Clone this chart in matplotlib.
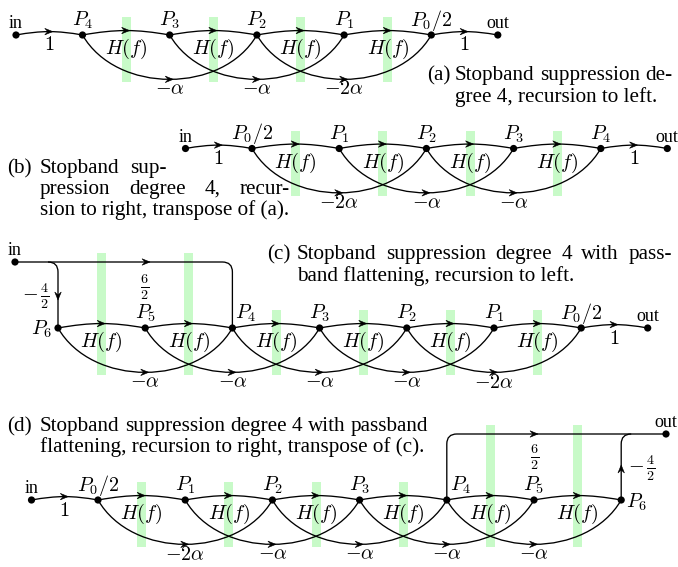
import numpy as np
import matplotlib
matplotlib.use('Agg')
import matplotlib.pyplot as plt
from matplotlib.path import Path
from matplotlib.patches import PathPatch, Polygon, Rectangle, Circle

plt.rcParams['mathtext.fontset'] = 'cm'
plt.rcParams['font.family'] = ['Liberation Serif', 'DejaVu Serif']

# node names and branch gains of the four flow graphs
nodes_a = [r'$P_4$', r'$P_3$', r'$P_2$', r'$P_1$', r'$P_0/2$']
skip_a = [r'$-\alpha$', r'$-\alpha$', r'$-2\alpha$']
nodes_b = [r'$P_0/2$', r'$P_1$', r'$P_2$', r'$P_3$', r'$P_4$']
skip_b = [r'$-2\alpha$', r'$-\alpha$', r'$-\alpha$']
nodes_c = [r'$P_6$', r'$P_5$', r'$P_4$', r'$P_3$', r'$P_2$', r'$P_1$', r'$P_0/2$']
skip_c = [r'$-\alpha$', r'$-\alpha$', r'$-\alpha$', r'$-\alpha$', r'$-2\alpha$']
nodes_d = [r'$P_0/2$', r'$P_1$', r'$P_2$', r'$P_3$', r'$P_4$', r'$P_5$', r'$P_6$']
skip_d = [r'$-2\alpha$', r'$-\alpha$', r'$-\alpha$', r'$-\alpha$', r'$-\alpha$']
filter_gain = r'$H(f)$'
io_gain = r'$1$'
bypass_gain = r'$\frac{6}{2}$'
feed_gain = r'$-\,\frac{4}{2}$'

captions = {
    'a': ['Stopband suppression de-', 'gree 4, recursion to left.'],
    'b': ['Stopband sup-', 'pression degree 4, recur-', 'sion to right, transpose of (a).'],
    'c': ['Stopband suppression degree 4 with pass-', 'band flattening, recursion to left.'],
    'd': ['Stopband suppression degree 4 with passband',
          'flattening, recursion to right, transpose of (c).'],
}

STEP = 87.2
IO = 66.5
FS_MATH = 14.5
FS_TEXT = 15.2
GREEN = '#c8fac8'

fig = plt.figure(figsize=(6.78, 5.67), dpi=100)
ax = fig.add_axes([0, 0, 1, 1])
ax.set_xlim(0, 678)
ax.set_ylim(567, 0)
ax.axis('off')


def ctrl_points(A, B, bend):
    A = np.array(A, float)
    B = np.array(B, float)
    L = np.hypot(*(B - A))
    d = (B - A) / L
    n = np.array([d[1], -d[0]])  # "up" on screen
    th = np.radians(bend)
    c = 0.3915 * L
    P1 = A + c * (np.cos(th) * d + np.sin(th) * n)
    P2 = B + c * (-np.cos(th) * d + np.sin(th) * n)
    return [A, P1, P2, B]


def cubic(P, t):
    a, b, c, d = P
    pt = (1 - t)**3 * a + 3 * (1 - t)**2 * t * b + 3 * (1 - t) * t**2 * c + t**3 * d
    tan = 3 * (1 - t)**2 * (b - a) + 6 * (1 - t) * t * (c - b) + 3 * t**2 * (d - c)
    return pt, tan / np.hypot(*tan)


def arrowhead(tip, u, L=8, W=6.5):
    tip = np.array(tip, float)
    u = np.array(u, float)
    p = np.array([-u[1], u[0]])
    pts = [tip, tip - L * u + W / 2 * p, tip - 0.62 * L * u, tip - L * u - W / 2 * p]
    ax.add_patch(Polygon(pts, closed=True, fc='black', ec='black', lw=0.4, zorder=4))


def edge(A, B, bend):
    P = ctrl_points(A, B, bend)
    path = Path(P, [Path.MOVETO, Path.CURVE4, Path.CURVE4, Path.CURVE4])
    ax.add_patch(PathPatch(path, fc='none', ec='black', lw=0.95, zorder=3))
    pt, u = cubic(P, 0.5)
    arrowhead(pt + 3.5 * u, u)


def node(x, y):
    ax.add_patch(Circle((x, y), 3.6, fc='black', ec='none', zorder=5))


def mlabel(x, y, s, **kw):
    kw.setdefault('ha', 'center')
    kw.setdefault('va', 'center')
    ax.text(x, y, s, fontsize=FS_MATH, zorder=6, **kw)


def chain(x0, y, labels, skips, tall=(), tall_top=None, label_off=None):
    n = len(labels)
    xs = x0 + STEP * np.arange(n)
    for i in range(n - 1):
        mid = (xs[i] + xs[i + 1]) / 2
        top = tall_top if i in tall else y - 18
        ax.add_patch(Rectangle((mid - 4.5, top), 9, y + 47 - top, fc=GREEN, ec='none', zorder=1))
        edge((xs[i], y), (xs[i + 1], y), 10)
        mlabel(mid, y + 14, filter_gain)
    for i in range(n - 2):
        edge((xs[i], y), (xs[i + 2], y), -60)
        mlabel(xs[i + 1], y + 55, skips[i])
    label_off = label_off or {}
    for i, (x, lab) in enumerate(zip(xs, labels)):
        node(x, y)
        if i in label_off:
            dx, dy, ha, va = label_off[i]
            mlabel(x + dx, y + dy, lab, ha=ha, va=va)
        else:
            mlabel(x, y - 9, lab, va='baseline')
    return xs


def io_edge(A, B, name_a=None, name_b=None):
    edge(A, B, 10)
    mlabel((A[0] + B[0]) / 2, A[1] + 11, io_gain)
    for P, nm in ((A, name_a), (B, name_b)):
        if nm:
            node(*P)
            ax.text(P[0], P[1] - 7, nm, fontsize=13, ha='center', va='baseline', zorder=6)


def corner_path(pts_codes):
    verts = [p for p, _ in pts_codes]
    codes = [c for _, c in pts_codes]
    ax.add_patch(PathPatch(Path(verts, codes), fc='none', ec='black', lw=0.95, zorder=3))


renderer = fig.canvas.get_renderer()


def text_line(x, y, s, right=None):
    if right is None:
        ax.text(x, y, s, fontsize=FS_TEXT, ha='left', va='baseline')
        return
    words = s.split(' ')
    arts = [ax.text(0, y, w, fontsize=FS_TEXT, ha='left', va='baseline') for w in words]
    widths = [a.get_window_extent(renderer).width for a in arts]
    gap = (right - x - sum(widths)) / max(len(words) - 1, 1)
    cx = x
    for a, w in zip(arts, widths):
        a.set_x(cx)
        cx += w + gap


def caption(tag, x_lab, x_body, baselines, rights):
    ax.text(x_lab, baselines[0], '(%s)' % tag, fontsize=FS_TEXT, ha='left', va='baseline')
    for line, yb, r in zip(captions[tag], baselines, rights):
        text_line(x_body, yb, line, r)


# (a) recursion to left
ya = 35
xa = chain(82.5, ya, nodes_a, skip_a)
io_edge((xa[0] - IO, ya), (xa[0], ya), name_a='in')
io_edge((xa[-1], ya), (xa[-1] + IO, ya), name_b='out')
caption('a', 427, 455, [80, 102], [672, None])

# (b) recursion to right
yb = 148.5
xb = chain(252, yb, nodes_b, skip_b)
io_edge((xb[0] - IO, yb), (xb[0], yb), name_a='in')
io_edge((xb[-1], yb), (xb[-1] + IO, yb), name_b='out')
caption('b', 7, 40, [173, 194, 215], [167, 290, None])

# (c) with passband flattening, recursion to left
yc = 328
ytop_c = 262
xc = chain(58, yc, nodes_c, skip_c, tall=(0, 1), tall_top=253,
           label_off={0: (-6, 1, 'right', 'center'), 2: (3, -9, 'left', 'baseline')})
io_edge((xc[-1], yc), (xc[-1] + IO, yc), name_b='out')
x_in_c = 15
r = 10
corner_path([((x_in_c, ytop_c), Path.MOVETO), ((xc[2] - r, ytop_c), Path.LINETO),
             ((xc[2], ytop_c), Path.CURVE3), ((xc[2], ytop_c + r), Path.CURVE3),
             ((xc[2], yc), Path.LINETO)])
corner_path([((xc[0] - r, ytop_c), Path.MOVETO), ((xc[0], ytop_c), Path.CURVE3),
             ((xc[0], ytop_c + r), Path.CURVE3), ((xc[0], yc), Path.LINETO)])
arrowhead((150, ytop_c), (1, 0))
arrowhead((xc[0], 300), (0, 1))
node(x_in_c, ytop_c)
ax.text(x_in_c, ytop_c - 7, 'in', fontsize=13, ha='center', va='baseline', zorder=6)
mlabel(145, 287, bypass_gain)
mlabel(xc[0] - 8, 296, feed_gain, ha='right')
caption('c', 267, 297, [259, 281], [672, None])

# (d) with passband flattening, recursion to right
yd = 500
ytop_d = 434
xd = chain(98, yd, nodes_d, skip_d, tall=(4, 5), tall_top=425,
           label_off={4: (3, -9, 'left', 'baseline'), 6: (5, 2, 'left', 'center')})
io_edge((xd[0] - IO, yd), (xd[0], yd), name_a='in')
x_out_d = 666
corner_path([((xd[4], yd), Path.MOVETO), ((xd[4], ytop_d + r), Path.LINETO),
             ((xd[4], ytop_d), Path.CURVE3), ((xd[4] + r, ytop_d), Path.CURVE3),
             ((x_out_d, ytop_d), Path.LINETO)])
corner_path([((xd[6], yd), Path.MOVETO), ((xd[6], ytop_d + r), Path.LINETO),
             ((xd[6], ytop_d), Path.CURVE3), ((xd[6] + r, ytop_d), Path.CURVE3)])
arrowhead((538, ytop_d), (1, 0))
arrowhead((xd[6], 465), (0, -1))
node(x_out_d, ytop_d)
ax.text(x_out_d, ytop_d - 7, 'out', fontsize=13, ha='center', va='baseline', zorder=6)
mlabel(535, 457, bypass_gain)
mlabel(xd[6] + 7, 468, feed_gain, ha='left')
caption('d', 7, 40, [431, 452], [428, None])

fig.savefig('out.png', dpi=100)
